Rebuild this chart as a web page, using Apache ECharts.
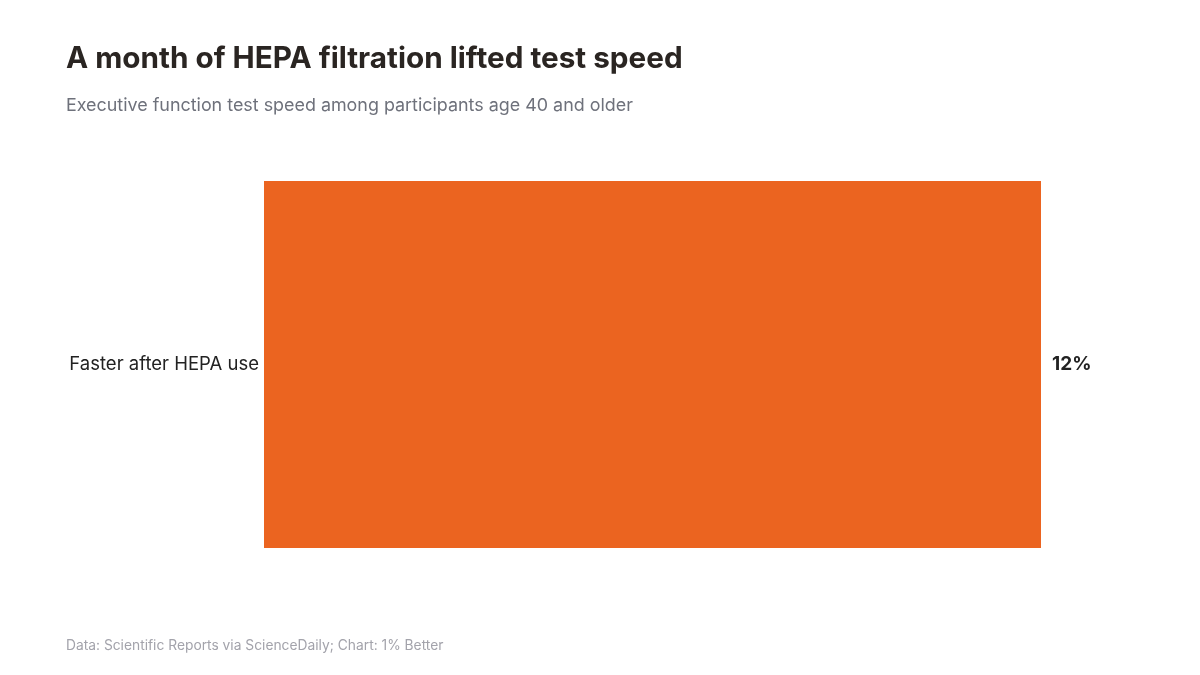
<!DOCTYPE html>
<html>
<head>
<meta charset="utf-8">
<script src="https://cdn.jsdelivr.net/npm/echarts@6/dist/echarts.min.js"></script>
<style>
  html, body { margin: 0; padding: 0; background: #fff; }
  #chart { width: 1200px; height: 675px; }
</style>
</head>
<body>
<div id="chart"></div>
<script>
// data
var categories = ['Faster after HEPA use'];
var values = [12];

var chart = echarts.init(document.getElementById('chart'), null, { renderer: 'canvas' });

var font = 'Inter, "Open Sans", sans-serif';

var option = {
  backgroundColor: '#ffffff',
  animation: false,
  title: [
    {
      text: 'A month of HEPA filtration lifted test speed',
      left: 66, top: 44, padding: 0,
      textStyle: { fontFamily: font, fontSize: 29.7, fontWeight: 700, color: '#2a2522' }
    },
    {
      text: 'Executive function test speed among participants age 40 and older',
      left: 66, top: 97, padding: 0,
      textStyle: { fontFamily: font, fontSize: 17.9, fontWeight: 400, color: '#6e717b' }
    },
    {
      text: 'Data: Scientific Reports via ScienceDaily; Chart: 1% Better',
      left: 66, top: 639, padding: 0,
      textStyle: { fontFamily: font, fontSize: 13.8, fontWeight: 400, color: '#a3a3ab' }
    }
  ],
  grid: { left: 264, right: 159, top: 181, height: 367 },
  xAxis: {
    type: 'value',
    min: 0, max: 12,
    show: false
  },
  yAxis: {
    type: 'category',
    data: categories,
    axisLine: { show: false },
    axisTick: { show: false },
    axisLabel: { margin: 5, padding: [6, 0, 0, 0], fontFamily: font, fontSize: 18.5, color: '#222222' }
  },
  series: [{
    type: 'bar',
    data: values,
    barWidth: '100%',
    itemStyle: { color: '#eb6420' },
    label: {
      show: true,
      position: 'right',
      distance: 11,
      padding: [3, 0, 0, 0],
      formatter: function (p) { return p.value + '%'; },
      fontFamily: font, fontSize: 19, fontWeight: 700, color: '#222222'
    }
  }]
};

chart.setOption(option);
</script>
</body>
</html>
